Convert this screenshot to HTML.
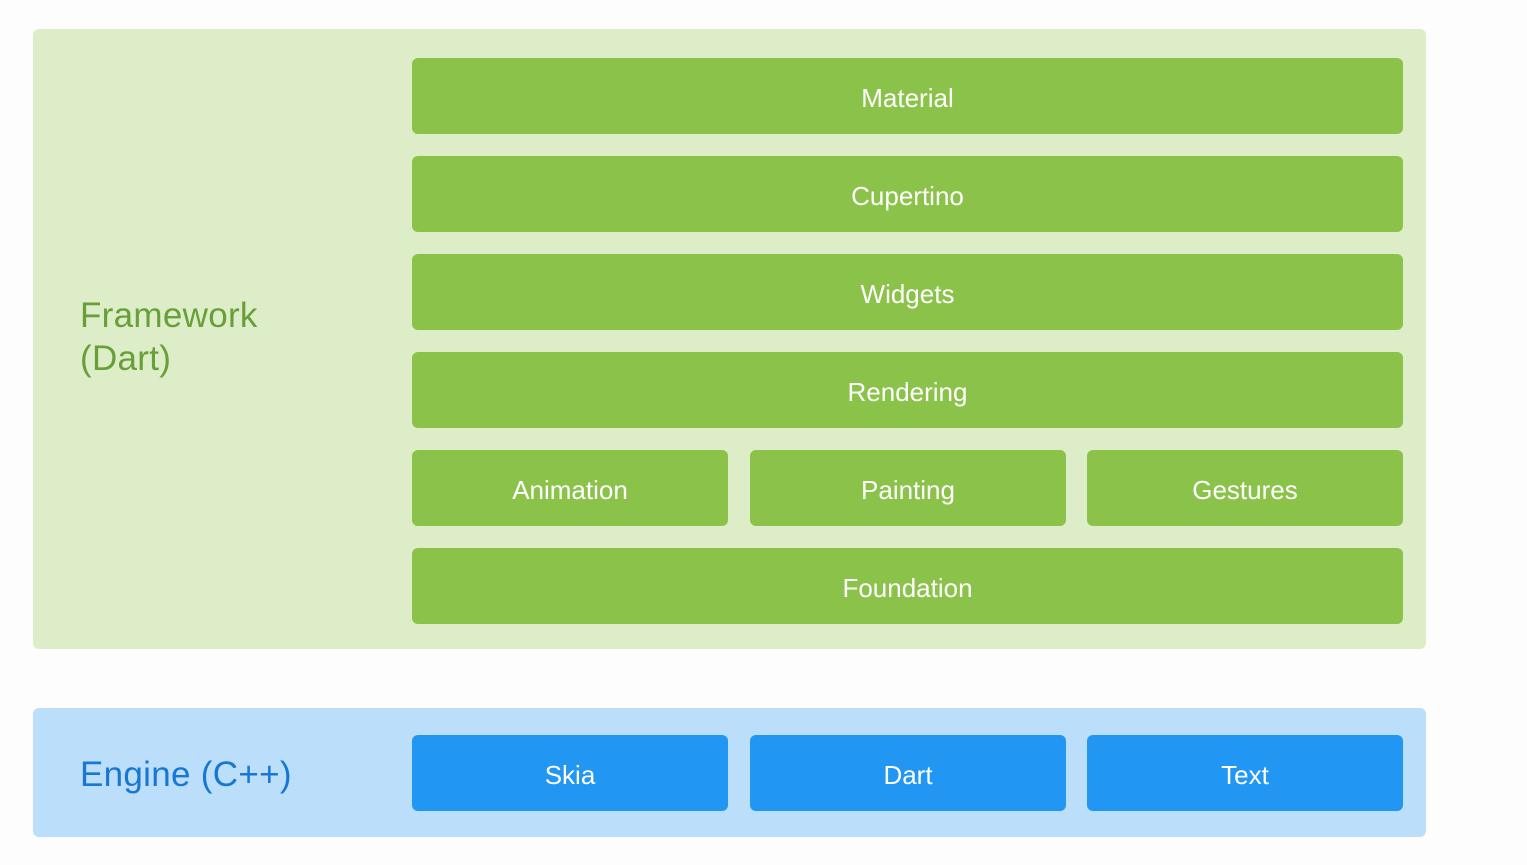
<!DOCTYPE html>
<html><head><style>
body{margin:0;width:1527px;height:865px;background:#fdfdfd;position:relative;font-family:"Liberation Sans",sans-serif;overflow:hidden}
.box{position:absolute;border-radius:6px}
.b{position:absolute;border-radius:6px;color:#fff;font-size:26px;display:flex;align-items:center;justify-content:center;box-sizing:border-box;padding-top:4px}
.g{background:#8bc34a}.bl{background:#2196f3}
.lbl{position:absolute;font-size:35px;line-height:43px;letter-spacing:0.3px}
</style></head><body>
<div class="box" style="left:33px;top:29px;width:1393px;height:620px;background:#dcedc8"></div>
<div class="lbl" style="left:80px;top:294px;color:#689f38">Framework<br>(Dart)</div>
<div class="b g" style="left:412px;top:58px;width:991px;height:76px">Material</div>
<div class="b g" style="left:412px;top:156px;width:991px;height:76px">Cupertino</div>
<div class="b g" style="left:412px;top:254px;width:991px;height:76px">Widgets</div>
<div class="b g" style="left:412px;top:352px;width:991px;height:76px">Rendering</div>
<div class="b g" style="left:412px;top:450px;width:316px;height:76px">Animation</div>
<div class="b g" style="left:750px;top:450px;width:316px;height:76px">Painting</div>
<div class="b g" style="left:1087px;top:450px;width:316px;height:76px">Gestures</div>
<div class="b g" style="left:412px;top:548px;width:991px;height:76px">Foundation</div>
<div class="box" style="left:33px;top:708px;width:1393px;height:129px;background:#bbdefb"></div>
<div class="lbl" style="left:80px;top:753px;color:#1976d2">Engine (C++)</div>
<div class="b bl" style="left:412px;top:735px;width:316px;height:76px">Skia</div>
<div class="b bl" style="left:750px;top:735px;width:316px;height:76px">Dart</div>
<div class="b bl" style="left:1087px;top:735px;width:316px;height:76px">Text</div>
</body></html>
